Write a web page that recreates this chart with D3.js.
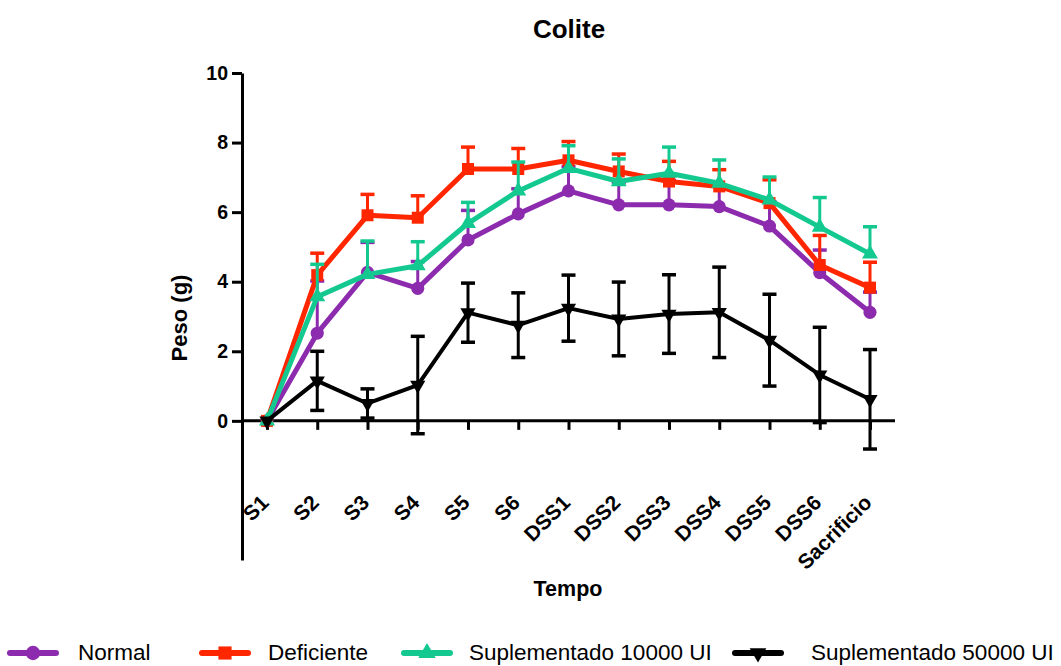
<!DOCTYPE html>
<html>
<head>
<meta charset="utf-8">
<script src="https://cdn.jsdelivr.net/npm/d3@7"></script>
<style>
  body { margin: 0; background: #fff; }
  svg { font-family: "Liberation Sans", Arial, sans-serif; }
</style>
</head>
<body>
<svg width="1061" height="666"></svg>
<script>
// categories
var tempos = ["S1", "S2", "S3", "S4", "S5", "S6", "DSS1", "DSS2", "DSS3", "DSS4", "DSS5", "DSS6", "Sacrificio"];

// means (g)
var normal      = [0, 2.52, 4.27, 3.81, 5.20, 5.95, 6.61, 6.21, 6.21, 6.16, 5.60, 4.26, 3.12];
var deficiente  = [0, 4.19, 5.91, 5.84, 7.24, 7.24, 7.49, 7.17, 6.88, 6.74, 6.26, 4.48, 3.83];
var sup10000    = [0, 3.57, 4.21, 4.46, 5.68, 6.61, 7.26, 6.88, 7.12, 6.83, 6.35, 5.57, 4.80];
var sup50000    = [0, 1.15, 0.50, 1.03, 3.11, 2.75, 3.24, 2.93, 3.07, 3.12, 2.32, 1.32, 0.62];

// error (SD)
var normalErr     = [0, 1.50, 0.86, 0.77, 0.85, 0.72, 0.70, 0.65, 0.70, 0.60, 0.70, 0.65, 0.58];
var deficienteErr = [0, 0.63, 0.60, 0.63, 0.63, 0.59, 0.54, 0.50, 0.58, 0.48, 0.67, 0.85, 0.73];
var sup10000Err   = [0, 0.93, 0.96, 0.69, 0.60, 0.83, 0.65, 0.65, 0.75, 0.67, 0.66, 0.85, 0.78];
var sup50000Err   = [0, 0.85, 0.42, 1.40, 0.85, 0.93, 0.95, 1.06, 1.13, 1.30, 1.32, 1.37, 1.43];

var yTicks = [0, 2, 4, 6, 8, 10];

var series = [
  {name: "Normal", values: normal, err: normalErr, color: "#8c2bad", symbol: d3.symbolCircle, size: 135, rot: 0, both: false, width: 5},
  {name: "Deficiente", values: deficiente, err: deficienteErr, color: "#ff2600", symbol: d3.symbolSquare, size: 144, rot: 0, both: false, width: 5},
  {name: "Suplementado 10000 UI", values: sup10000, err: sup10000Err, color: "#14c98f", symbol: d3.symbolTriangle, size: 110, rot: 0, both: false, width: 5},
  {name: "Suplementado 50000 UI", values: sup50000, err: sup50000Err, color: "#000000", symbol: d3.symbolTriangle, size: 100, rot: 180, both: true, width: 4}
];

var svg = d3.select("svg");

var x = d3.scalePoint().domain(tempos).range([267, 870]);
var y = d3.scaleLinear().domain([-4, 10]).range([560, 73]);

// title
svg.append("text")
  .attr("x", 569).attr("y", 38)
  .attr("text-anchor", "middle")
  .attr("font-size", 26).attr("font-weight", "bold")
  .text("Colite");

// y axis
var yAxis = svg.append("g")
  .attr("transform", "translate(242,0)")
  .call(d3.axisLeft(y).tickValues(yTicks).tickSize(10).tickSizeOuter(0).tickPadding(4));
yAxis.select(".domain").attr("stroke-width", 3);
yAxis.selectAll(".tick line").attr("stroke-width", 3);
yAxis.selectAll(".tick text").attr("font-size", 19.5).attr("font-weight", "bold")
  .attr("font-family", "Liberation Sans, Arial, sans-serif").attr("fill", "#000");

svg.append("text")
  .attr("transform", "translate(187,318) rotate(-90)")
  .attr("text-anchor", "middle")
  .attr("font-size", 22).attr("font-weight", "bold")
  .text("Peso (g)");

// x axis at zero
var xAxis = svg.append("g")
  .attr("transform", "translate(0," + y(0) + ")")
  .call(d3.axisBottom(x).tickSize(9).tickSizeOuter(0).tickFormat(""));
xAxis.select(".domain").attr("d", "M242,0H895").attr("stroke-width", 3);
xAxis.selectAll(".tick line").attr("stroke-width", 3);

svg.append("g").selectAll("text")
  .data(tempos)
  .enter()
  .append("text")
  .attr("transform", function(d) { return "translate(" + (x(d) + 3) + ",504) rotate(-45)"; })
  .attr("text-anchor", "end")
  .attr("font-size", 21).attr("font-weight", "bold")
  .text(function(d) { return d; });

svg.append("text")
  .attr("x", 568).attr("y", 596)
  .attr("text-anchor", "middle")
  .attr("font-size", 21.5).attr("font-weight", "bold")
  .text("Tempo");

// series
var line = d3.line()
  .x(function(d, i) { return x(tempos[i]); })
  .y(function(d) { return y(d); });

series.forEach(function(s) {
  var g = svg.append("g");
  var cap = 7;
  s.values.forEach(function(v, i) {
    if (s.err[i] <= 0) return;
    var cx = x(tempos[i]);
    var top = y(v + s.err[i]);
    var bot = s.both ? y(v - s.err[i]) : y(v);
    g.append("line").attr("x1", cx).attr("x2", cx).attr("y1", top).attr("y2", bot)
      .attr("stroke", s.color).attr("stroke-width", 3);
    g.append("line").attr("x1", cx - cap).attr("x2", cx + cap).attr("y1", top).attr("y2", top)
      .attr("stroke", s.color).attr("stroke-width", 3.5);
    if (s.both) {
      g.append("line").attr("x1", cx - cap).attr("x2", cx + cap).attr("y1", bot).attr("y2", bot)
        .attr("stroke", s.color).attr("stroke-width", 3.5);
    }
  });
  g.append("path")
    .attr("d", line(s.values))
    .attr("fill", "none")
    .attr("stroke", s.color)
    .attr("stroke-width", s.width)
    .attr("stroke-linejoin", "round");
  g.selectAll("path.mk")
    .data(s.values)
    .enter()
    .append("path")
    .attr("class", "mk")
    .attr("d", d3.symbol().type(s.symbol).size(s.size))
    .attr("transform", function(d, i) { return "translate(" + x(tempos[i]) + "," + y(d) + ") rotate(" + s.rot + ")"; })
    .attr("fill", s.color);
});

// legend
var legendX = [10, 202, 404, 735];
var legendTextX = [78, 268, 469, 811];
var leg = svg.append("g");
series.forEach(function(s, i) {
  var lx = legendX[i];
  leg.append("line")
    .attr("x1", lx).attr("x2", lx + 46)
    .attr("y1", 653).attr("y2", 653)
    .attr("stroke", s.color).attr("stroke-width", 6)
    .attr("stroke-linecap", "round");
  leg.append("path")
    .attr("d", d3.symbol().type(s.symbol).size(s.size * 1.2))
    .attr("transform", "translate(" + (lx + 23) + ",653) rotate(" + s.rot + ")")
    .attr("fill", s.color);
  leg.append("text")
    .attr("x", legendTextX[i]).attr("y", 660)
    .attr("font-size", 22.5)
    .text(s.name);
});
</script>
</body>
</html>
